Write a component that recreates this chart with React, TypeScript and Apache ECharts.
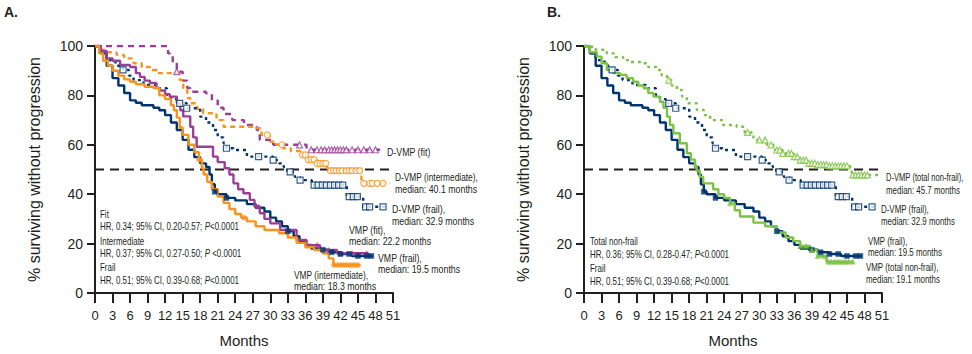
import React, { useEffect, useRef } from "react";
import * as echarts from "echarts";

// ---------- Data (months, % surviving without progression) ----------
const xTicks = [0, 3, 6, 9, 12, 15, 18, 21, 24, 27, 30, 33, 36, 39, 42, 45, 48, 51];

const dvmpFit = [[0,100],[11.7,100],[12.5,97],[13.3,93],[14,89.6],[15,86],[15.8,83],[16.3,81.5],[19,80.8],[20,78],[21,75],[22,72.5],[23.5,70],[25.5,68],[27.7,66],[28.2,62],[30.5,60],[35.1,60],[36.2,58],[48.8,58]];
const dvmpInter = [[0,100],[0.9,98.4],[2,97.5],[3.7,96.4],[5,95],[6.6,93],[8,91.5],[9.4,90.3],[10.6,89],[13.4,89],[14.5,86.2],[15.1,82.2],[15.8,79],[16.3,76.8],[17.5,74.5],[18.5,72.8],[20.8,70],[22,67.3],[27.7,66.7],[28.5,64],[29.9,61.3],[31,60],[32.2,58.6],[33.5,57.5],[35.1,55.9],[36.5,54],[37.9,52.5],[39.7,50.5],[40.1,49.5],[45.6,44.4],[50.5,44.4]];
const dvmpFrail = [[0,100],[1,97],[2,94.3],[3.5,92],[4.8,90.3],[5.8,88],[6.6,86.2],[8.3,84.2],[10.6,82.9],[12.3,80.2],[13,78.5],[14,76.8],[15.7,74.8],[18,71.4],[19,69],[20.2,66],[21,63],[22,60.6],[22.5,58.6],[23.7,57.9],[26,55.2],[30.5,53.8],[31.5,52.5],[32.3,51],[32.9,49],[34.2,47],[35.1,45.7],[37.1,43.7],[43.1,39],[45.9,34.9],[49.9,34.9]];
const vmpFit = [[0,100],[1,98],[2,95],[3,94],[4.3,92.3],[6,91.5],[7,89],[7.7,87.5],[8.5,86],[9.4,85],[10.5,83],[11.1,82],[12,80.5],[12.8,79.5],[14,77],[14.6,74],[15.1,71.5],[16.3,67.3],[16.8,63],[17.4,59.2],[19.1,59.2],[20.2,55.2],[21,53],[22.2,50.5],[23,48],[23.7,44.4],[24.5,42],[25.4,40.4],[26.5,37.7],[27.3,35],[28.2,32.3],[29,30],[30,28.2],[31.7,25.5],[33.9,25.5],[34.5,21.5],[36.2,19.4],[38.5,17.4],[41.4,16.1],[46.8,16.1]];
const vmpInter = [[0,100],[0.7,97],[1.4,94],[2.2,92],[3,90],[4,88],[5,86.5],[6,85.5],[7,84.5],[8.5,83.5],[10,83],[11,80],[12,78.5],[13,76],[13.5,74],[14,71],[14.5,67],[15,64],[16,60],[17,57],[17.8,54],[18.3,50.5],[18.6,48],[19.2,45],[20,42],[21,39],[22,36.5],[23,34],[24,32],[25,30.5],[26,29],[27.5,27],[29,25.5],[31.5,24.2],[33,22.5],[34.5,20.3],[36,18.5],[37.5,17.4],[39,16],[40,14],[40.8,11.3],[45.4,11.3]];
const vmpFrail = [[0,100],[1,97],[2,92],[3,87],[4,84],[5,81],[6,78],[7,77],[8,76],[10,75],[11,74],[12,72],[13,69],[14,66],[15,62],[16,58],[17,55],[18,52.5],[19,51],[19.6,48],[20,44],[20.5,41],[21,40],[22.5,38.5],[24,37.5],[26,36],[27.5,34.5],[29,33],[30,30.5],[31,29],[32,27],[33,25],[34,23],[35,21],[36,19.5],[37,18],[38.5,17.5],[40,16.5],[42,15.8],[44,15],[47.5,15]];
const dvmpNonFrail = [[0,100],[0.5,99.7],[2,98.5],[3.9,97],[5.3,95.5],[6.7,94.3],[8,93.5],[9.6,93],[11,91.5],[12.4,90.3],[13.3,88],[14.2,86.2],[15,84],[15.9,82.2],[16.8,79.5],[17.6,76.8],[19.3,74.1],[20.5,72],[21.6,70],[23.8,68],[26.1,67.3],[27.5,65],[29,62],[31.3,60],[32.4,57.9],[34,56.5],[35.8,55.2],[37,53.8],[38.1,52.5],[40,52],[42,51.5],[45.5,51.1],[45.8,47.8],[50.7,47.8]];
const vmpNonFrail = [[0,100],[1,97.5],[2.2,95.7],[3,93],[3.9,90.3],[5,89],[6.2,88.3],[7.3,87],[8.4,85.5],[9.3,84],[10.2,82.9],[11,81],[11.9,79.5],[13,77.4],[13.6,75],[14.2,71.4],[14.7,68],[15.3,64.7],[16.4,60.6],[17.6,56.6],[18.3,54],[19,51.1],[19.3,49.5],[19.8,47],[20.4,44.4],[22.1,42],[23,40],[24,38.5],[25,36.3],[25.8,33.5],[26.7,31],[29,28.5],[31,27],[33,24.5],[34.5,22.5],[35.8,21],[37,19],[38.7,17.4],[40,15],[41.5,12.7],[46.1,12.7]];

// censored observations (months)
const cDvmpFit = [14, 35, 37, 38, 38.7, 39.3, 40, 40.5, 41, 41.5, 42, 42.5, 43, 44, 45, 46, 47, 48];
const cDvmpInter = [29.5, 32, 35.5, 36, 36.5, 37, 37.5, 38, 38.5, 39, 39.5, 40.3, 40.8, 41.3, 41.8, 42.3, 43, 43.5, 44, 44.7, 45.3, 46, 47, 47.5, 48.3, 49.3];
const cDvmpFrail = [4.8, 14.5, 15.7, 22.5, 28, 30.5, 33.4, 35.1, 37.5, 38.2, 38.9, 39.6, 40.3, 41, 41.7, 42.4, 43.5, 44.2, 44.9, 46.3, 47, 49.3];
const cVmpFit = [28, 38, 40, 42, 44, 46.5];
const cVmpInter = [17.8, 25.5, 40.9, 41.5, 42, 42.5, 43, 43.5, 44, 44.5, 45];
const cVmpFrail = [20.5, 22.5, 33, 39, 40.5, 42, 43.5, 45, 46.5, 47.3];
const cDvmpNonFrail = [14.5, 28, 30, 31, 32, 33, 33.5, 34, 35, 35.5, 36, 36.5, 37, 37.5, 38, 38.5, 39, 39.5, 40, 40.5, 41, 41.5, 42, 42.5, 43, 43.5, 44, 44.5, 45, 46, 46.5, 47, 47.5, 48, 48.5];
const cVmpNonFrail = [25, 37, 38, 39, 40, 41, 41.8, 42.3, 42.8, 43.3, 43.8, 44.3, 44.8, 45.3, 46];

const medianLine = [[0, 50], [50.5, 50]];

// ---------- Styles ----------
const FONT = "'Liberation Sans', Arial, Helvetica, sans-serif";
const TXT = "#231f20";
const PURPLE = "#9b3e97";
const ORANGE = "#f7941d";
const NAVY = "#00346f";
const GREEN = "#7dc242";

function survivalAt(curve: number[][], t: number) {
  let v = curve[0][1];
  for (const p of curve) {
    if (p[0] <= t) v = p[1];
    else break;
  }
  return v;
}

function km(curve: number[][], color: string, dash: any, idx: number, z = 3) {
  return {
    type: "line",
    step: "end",
    data: curve,
    xAxisIndex: idx,
    yAxisIndex: idx,
    showSymbol: false,
    silent: true,
    z,
    lineStyle: { color, width: 2.4, type: dash, cap: "butt" },
  };
}

function censor(curve: number[][], months: number[], color: string, symbol: string, open: boolean, idx: number, size = 6) {
  return {
    type: "scatter",
    data: months.map((m) => [m, survivalAt(curve, m)]),
    xAxisIndex: idx,
    yAxisIndex: idx,
    symbol,
    symbolSize: size,
    silent: true,
    z: 4,
    itemStyle: open
      ? { color: "#ffffff", borderColor: color, borderWidth: 1.2 }
      : { color, borderColor: color, borderWidth: 0.5 },
  };
}

function refLine(idx: number) {
  return {
    type: "line",
    data: medianLine,
    xAxisIndex: idx,
    yAxisIndex: idx,
    showSymbol: false,
    silent: true,
    z: 2,
    lineStyle: { color: "#231f20", width: 2, type: [9, 6] },
  };
}

function xAxis(idx: number) {
  return {
    type: "value",
    gridIndex: idx,
    min: 0,
    max: 51,
    interval: 3,
    name: "Months",
    nameLocation: "middle",
    nameGap: 40,
    nameTextStyle: { fontFamily: FONT, fontSize: 15, color: TXT },
    axisLine: { lineStyle: { color: TXT, width: 2 } },
    axisTick: { length: 10, lineStyle: { color: TXT, width: 2 } },
    axisLabel: { fontFamily: FONT, fontSize: 13, color: TXT, margin: 16, formatter: (v: number) => (xTicks.includes(v) ? String(v) : "") },
    splitLine: { show: false },
  };
}

function yAxis(idx: number) {
  return {
    type: "value",
    gridIndex: idx,
    min: 0,
    max: 100,
    interval: 20,
    name: "% surviving without progression",
    nameLocation: "middle",
    nameGap: 53,
    nameTextStyle: { fontFamily: FONT, fontSize: 16, color: TXT },
    axisLine: { show: true, lineStyle: { color: TXT, width: 2 } },
    axisTick: { show: true, length: 8, lineStyle: { color: TXT, width: 2 } },
    axisLabel: { fontFamily: FONT, fontSize: 14, color: TXT, margin: 12 },
    splitLine: { show: false },
  };
}

function label(x: number, y: number, text: string, size = 11, sx = 0.8, extra: any = {}) {
  return {
    type: "text",
    x,
    y,
    scaleX: sx,
    silent: true,
    style: {
      text,
      fontFamily: FONT,
      fontSize: size,
      fill: TXT,
      align: "left",
      verticalAlign: "middle",
      rich: { i: { fontStyle: "italic", fontFamily: FONT, fontSize: size, fill: TXT } },
      ...extra,
    },
  };
}

const BR = 0.72; // horizontal squeeze for panel B right-hand labels

export default function App() {
  const ref = useRef<HTMLDivElement>(null);
  useEffect(() => {
    if (!ref.current) return;
    const chart = echarts.init(ref.current, null, { renderer: "svg" });
    const option: any = {
      animation: false,
      backgroundColor: "#ffffff",
      grid: [
        { left: 95, top: 46, width: 298, height: 247 },
        { left: 584, top: 46, width: 298, height: 247 },
      ],
      xAxis: [xAxis(0), xAxis(1)],
      yAxis: [yAxis(0), yAxis(1)],
      series: [
        refLine(0),
        km(dvmpFit, PURPLE, [6, 5], 0),
        km(dvmpInter, ORANGE, [5, 4], 0),
        km(dvmpFrail, NAVY, [3, 4], 0),
        km(vmpFrail, NAVY, "solid", 0),
        km(vmpFit, PURPLE, "solid", 0),
        km(vmpInter, ORANGE, "solid", 0),
        censor(dvmpFit, cDvmpFit, PURPLE, "triangle", true, 0),
        censor(dvmpInter, cDvmpInter, ORANGE, "circle", true, 0),
        censor(dvmpFrail, cDvmpFrail, NAVY, "rect", true, 0),
        censor(vmpFit, cVmpFit, PURPLE, "triangle", false, 0, 5),
        censor(vmpInter, cVmpInter, ORANGE, "circle", false, 0, 5),
        censor(vmpFrail, cVmpFrail, NAVY, "rect", false, 0, 5),

        refLine(1),
        km(dvmpNonFrail, GREEN, [3, 4], 1),
        km(dvmpFrail, NAVY, [3, 4], 1),
        km(vmpFrail, NAVY, "solid", 1),
        km(vmpNonFrail, GREEN, "solid", 1),
        censor(dvmpNonFrail, cDvmpNonFrail, GREEN, "triangle", true, 1),
        censor(dvmpFrail, cDvmpFrail, NAVY, "rect", true, 1),
        censor(vmpFrail, cVmpFrail, NAVY, "rect", false, 1, 5),
        censor(vmpNonFrail, cVmpNonFrail, GREEN, "triangle", false, 1, 5),
      ],
      graphic: [
        label(4, 12, "A.", 14, 1, { fontWeight: "bold" }),
        label(547, 12, "B.", 14, 1, { fontWeight: "bold" }),

        label(100, 215, "Fit", 10.5, 0.76),
        label(100, 227, "HR, 0.34; 95% CI, 0.20-0.57; {i|P}<0.0001", 10.5, 0.76),
        label(100, 241.5, "Intermediate", 10.5, 0.76),
        label(100, 254, "HR, 0.37; 95% CI, 0.27-0.50; {i|P} <0.0001", 10.5, 0.76),
        label(100, 268, "Frail", 10.5, 0.76),
        label(100, 280.5, "HR, 0.51; 95% CI, 0.39-0.68; {i|P}<0.0001", 10.5, 0.76),

        label(387, 152, "D-VMP (fit)"),
        label(395, 177, "D-VMP (intermediate),", 11, 0.76),
        label(395, 189.5, "median: 40.1 months"),
        label(392, 209, "D-VMP (frail),"),
        label(392, 221, "median: 32.9 months"),
        label(349, 230, "VMP (fit),"),
        label(349, 241, "median: 22.2 months"),
        label(378, 258, "VMP (frail),"),
        label(378, 269.5, "median: 19.5 months"),
        label(294, 275, "VMP (intermediate),", 11, 0.76),
        label(294, 286, "median: 18.3 months"),

        label(590, 241.5, "Total non-frail", 10.5, 0.76),
        label(590, 255, "HR, 0.36; 95% CI, 0.28-0.47; {i|P}<0.0001", 10.5, 0.76),
        label(590, 269, "Frail", 10.5, 0.76),
        label(590, 281.5, "HR, 0.51; 95% CI, 0.39-0.68; {i|P}<0.0001", 10.5, 0.76),

        label(886, 177, "D-VMP (total non-frail),", 11, 0.69),
        label(886, 189.5, "median: 45.7 months", 11, BR),
        label(881, 209, "D-VMP (frail),", 11, BR),
        label(881, 221, "median: 32.9 months", 11, BR),
        label(868, 240.5, "VMP (frail),", 11, BR),
        label(868, 252, "median: 19.5 months", 11, BR),
        label(866, 267, "VMP (total non-frail),", 11, BR),
        label(866, 278.5, "median: 19.1 months", 11, BR),
      ],
    };
    chart.setOption(option);
    return () => chart.dispose();
  }, []);
  return (
    <div
      ref={ref}
      style={{ position: "fixed", left: 0, top: 0, width: 972, height: 354, background: "#fff" }}
    />
  );
}
